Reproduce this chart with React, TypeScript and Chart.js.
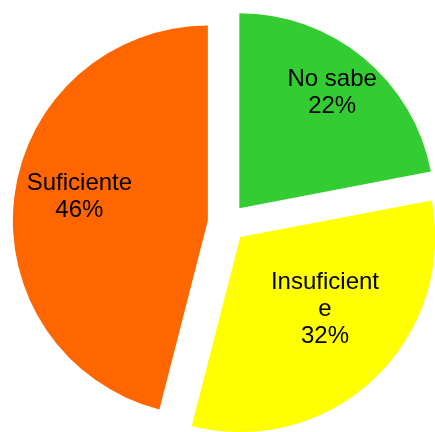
import React, { useEffect, useRef } from "react";
import { Chart, registerables } from "chart.js";

Chart.register(...registerables);

const categories = ["No sabe", "Insuficiente", "Suficiente"];
const values = [22, 32, 46];
const colors = ["#33CC33", "#FFFF00", "#FF6600"];

// Moves each slice outward along its middle angle (exploded pie).
const explodePlugin = {
  id: "explode",
  afterDatasetUpdate(chart: any, args: any, opts: any) {
    const meta = args.meta || chart.getDatasetMeta(args.index);
    meta.data.forEach((arc: any, i: number) => {
      const mid = (arc.startAngle + arc.endAngle) / 2;
      const d = opts.distances[i] || 0;
      arc.x += Math.cos(mid) * d;
      arc.y += Math.sin(mid) * d;
    });
  },
};

const labelPlugin = {
  id: "sliceLabels",
  afterDatasetsDraw(chart: any, _args: any, opts: any) {
    const ctx = chart.ctx;
    const meta = chart.getDatasetMeta(0);
    const data = chart.data.datasets[0].data as number[];
    const total = data.reduce((a, b) => a + b, 0);
    ctx.save();
    ctx.font = opts.font;
    ctx.fillStyle = opts.color;
    ctx.textAlign = "center";
    ctx.textBaseline = "middle";
    meta.data.forEach((arc: any, i: number) => {
      const { x, y, startAngle, endAngle, outerRadius } = arc;
      const mid = (startAngle + endAngle) / 2;
      const ang = mid + (opts.shifts[i] * Math.PI) / 180;
      const r = opts.radii[i] * outerRadius;
      const cx = x + Math.cos(ang) * r;
      const cy = y + Math.sin(ang) * r;
      const name = String(chart.data.labels[i]);
      const lines: string[] = [];
      let cur = "";
      for (const ch of name) {
        const test = cur + ch;
        if (cur && ch !== " " && ctx.measureText(test).width > opts.maxWidth) {
          lines.push(cur.trim());
          cur = ch;
        } else {
          cur = test;
        }
      }
      if (cur) lines.push(cur.trim());
      lines.push(Math.round((data[i] / total) * 100) + "%");
      const n = lines.length;
      lines.forEach((ln, k) => {
        ctx.fillText(ln, cx, cy + (k - (n - 1) / 2) * opts.lineHeight);
      });
    });
    ctx.restore();
  },
};

export default function App() {
  const ref = useRef<HTMLCanvasElement>(null);
  useEffect(() => {
    if (!ref.current) return;
    const chart = new Chart(ref.current, {
      type: "pie",
      data: {
        labels: categories,
        datasets: [
          {
            data: values,
            backgroundColor: colors,
            borderWidth: 0,
            offset: 0,
            hoverOffset: 0,
          },
        ],
      },
      options: {
        responsive: false,
        animation: false,
        radius: 195,
        layout: { padding: { left: 19, top: 14, right: 0, bottom: 0 } },
        events: [],
        plugins: {
          legend: { display: false },
          tooltip: { enabled: false },
          explode: { distances: [19.3, 19.3, 19.3] },
          sliceLabels: {
            font: "24px 'Liberation Sans', Arial, sans-serif",
            color: "#000000",
            lineHeight: 27,
            maxWidth: 112,
            radii: [0.76, 0.57, 0.67],
            shifts: [-0.8, -6.5, 3.3],
          },
        } as any,
      },
      plugins: [explodePlugin, labelPlugin],
    });
    return () => chart.destroy();
  }, []);
  return (
    <canvas
      ref={ref}
      width={435}
      height={432}
      style={{ position: "absolute", left: 0, top: 0, display: "block", background: "#fff" }}
    />
  );
}
